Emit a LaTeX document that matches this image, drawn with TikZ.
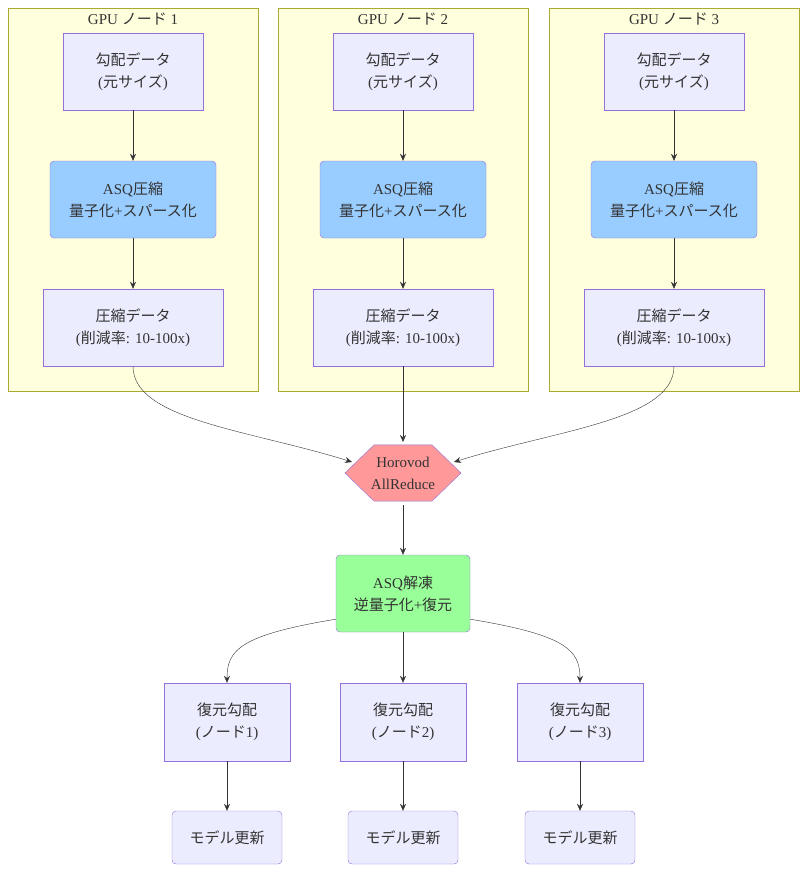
\documentclass[tikz,border=0pt]{standalone}
\usepackage{fontspec}
\setmainfont{Liberation Serif}
\newfontfamily\jpf{Noto Sans CJK JP}
\newcommand{\J}[1]{{\jpf #1}}
\usetikzlibrary{shapes.geometric,arrows.meta}
\definecolor{clfill}{HTML}{FFFFDE}
\definecolor{cldraw}{HTML}{AAAA33}
\definecolor{nfill}{HTML}{ECECFF}
\definecolor{ndraw}{HTML}{9370DB}
\tikzset{
 x=1pt,y=-1pt,
 every node/.style={font=\fontsize{15}{22}\selectfont, text=black!80, align=center},
 cl/.style={fill=clfill,draw=cldraw},
 box/.style={fill=nfill,draw=ndraw,inner sep=0},
 rbox/.style={box,rounded corners=4pt},
 arr/.style={draw=black!80,-{Stealth[length=7pt,width=6pt]}}
}
\begin{document}
\begin{tikzpicture}
\useasboundingbox (0,0) rectangle (807,873);
\foreach \i/\o in {1/0,2/270,3/541}{
 \begin{scope}[xshift=\o pt]
 \draw[cl] (8,8) rectangle (258,391);
 \node at (133,19) {GPU \J{ノード} \i};
 \node[box,minimum width=140,minimum height=77] (d\i) at (133,71.5) {\J{勾配データ}\\(\J{元サイズ})};
 \node[rbox,fill={rgb,255:red,153;green,204;blue,255},minimum width=166,minimum height=77] (a\i) at (133,199.5) {ASQ\J{圧縮}\\\J{量子化}+\J{スパース化}};
 \node[box,minimum width=180,minimum height=77] (c\i) at (133,327.5) {\J{圧縮データ}\\(\J{削減率}: 10-100x)};
 \end{scope}
 \draw[arr] (d\i) -- (a\i);
 \draw[arr] (a\i) -- (c\i);
}
\node[regular polygon,regular polygon sides=6,draw=ndraw,fill={rgb,255:red,255;green,153;blue,153},minimum size=116,inner sep=0,yscale=0.56] (h) at (403,473) {};
\node at (403,473) {Horovod\\AllReduce};
\coordinate (hl) at (352,462);
\coordinate (hr) at (454,462);
\draw[arr] (c1.south) .. controls (133,420) and (250,430) .. (hl);
\draw[arr] (c2.south) -- (403,442);
\draw[arr] (c3.south) .. controls (674,420) and (556,430) .. (hr);
\node[rbox,fill={rgb,255:red,153;green,255;blue,153},minimum width=134,minimum height=77] (u) at (403,593.5) {ASQ\J{解凍}\\\J{逆量子化}+\J{復元}};
\draw[arr] (403,505) -- (u);
\foreach \k/\x in {1/227,2/403,3/580}{
 \node[box,minimum width=126,minimum height=78] (r\k) at (\x,722) {\J{復元勾配}\\(\J{ノード}\k)};
 \node[rbox,minimum width=110,minimum height=53] (m\k) at (\x,837.5) {\J{モデル更新}};
 \draw[arr] (r\k) -- (m\k);
}
\draw[arr] (u.south west) ++(0,-13) .. controls (240,635) and (227,650) .. (r1.north);
\draw[arr] (u) -- (r2);
\draw[arr] (u.south east) ++(0,-13) .. controls (566,635) and (580,650) .. (r3.north);
\end{tikzpicture}
\end{document}
